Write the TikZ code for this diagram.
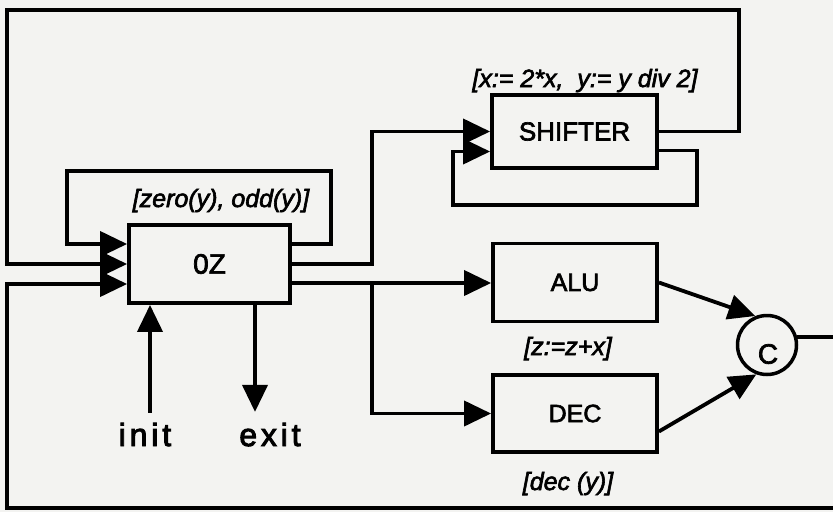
\documentclass[tikz,border=0pt]{standalone}
\usepackage{fontspec}
\setmainfont{Liberation Sans}
\newfontfamily\boxfont[FakeBold=2.5]{Liberation Sans}
\newfontfamily\spacedfont[LetterSpace=12,FakeBold=3]{Liberation Sans}
\usetikzlibrary{arrows.meta}
\definecolor{paper}{RGB}{243,243,241}
\begin{document}
\begin{tikzpicture}[x=1pt,y=-1pt,
  wire/.style={line width=3.8pt},
  arr/.style={wire,-{Triangle[length=27pt,width=25pt]}},
  block/.style={draw,line width=3.8pt,rectangle,inner sep=0pt,font=\boxfont\fontsize{25}{30}\selectfont},
  lab/.style={anchor=base,inner sep=0pt,font=\boxfont\itshape\fontsize{25}{30}\selectfont},
  io/.style={anchor=base,inner sep=0pt,font=\spacedfont\fontsize{32}{38}\selectfont},
]
\clip (0,0) rectangle (833,512);
\fill[paper] (0,0) rectangle (833,512);
% blocks
\node[block,minimum width=161pt,minimum height=78pt,font=\boxfont\fontsize{28}{32}\selectfont] (OZ) at (209.5,264) {0Z};
\node[block,minimum width=165pt,minimum height=73pt,font=\boxfont\fontsize{26}{30}\selectfont] (SH) at (574.5,131.5) {SHIFTER};
\node[block,minimum width=164pt,minimum height=78pt] (ALU) at (575,282.5) {ALU};
\node[block,minimum width=164pt,minimum height=77pt] (DEC) at (575,413.5) {DEC};
\node[draw,circle,line width=3.5pt,minimum size=59pt,inner sep=0pt] (C) at (767,345) {};
\node[inner sep=0pt,font=\boxfont\fontsize{28}{32}\selectfont] (Clab) at (768,354) {C};
% ports
\coordinate (oz1o) at ([yshift=20pt]OZ.east);
\coordinate (oz3o) at ([yshift=-19pt]OZ.east);
\coordinate (oz1i) at ([yshift=20pt]OZ.west);
\coordinate (oz3i) at ([yshift=-20pt]OZ.west);
\coordinate (sh2o) at ([yshift=-19pt]SH.east);
\coordinate (sh2i) at ([yshift=-20pt]SH.west);
\path ([xshift=-59.5pt]OZ.south) coordinate (ozi);
\path ([xshift=45.5pt]OZ.south) coordinate (oze);
\path (OZ.east) ++(80,0) coordinate (up);
\path (oz3o) ++(80,0) coordinate (br);
% connectors
\draw[arr] (oz1o) -| (331,171) -- (67,171) |- (oz1i);
\draw[arr] (SH.east) -| (739,10) -- (7,10) |- (OZ.west);
\draw[arr] (C.15) -- ++(80,0) |- (7,508) |- (oz3i);
\draw[arr] (OZ.east) -- (up) |- (SH.west);
\draw[arr] (sh2o) -| (697,205) -- (453,205) |- (sh2i);
\draw[arr] (oz3o) -- (oz3o -| ALU.west);
\draw[arr] (br) |- (DEC.west);
\draw[arr] (ALU.east) -- (C.112);
\draw[arr] ([yshift=-18pt]DEC.east) -- (C.250);
\draw[arr] ([yshift=-108pt]ozi) -- (ozi);
\draw[arr] (oze) -- ([yshift=-107pt]oze);
% labels
\node[io] (init) at (145,446) {init};
\node[io] (exit) at (270,446) {exit};
\node[lab] (l1) at (221,207) {[zero(y), odd(y)]};
\node[lab] (l2) at (585,87) {[x:= 2*x,\ \ y:= y div 2]};
\node[lab] (l3) at (568,355) {[z:=z+x]};
\node[lab] (l4) at (568,490) {[dec (y)]};
\end{tikzpicture}
\end{document}
